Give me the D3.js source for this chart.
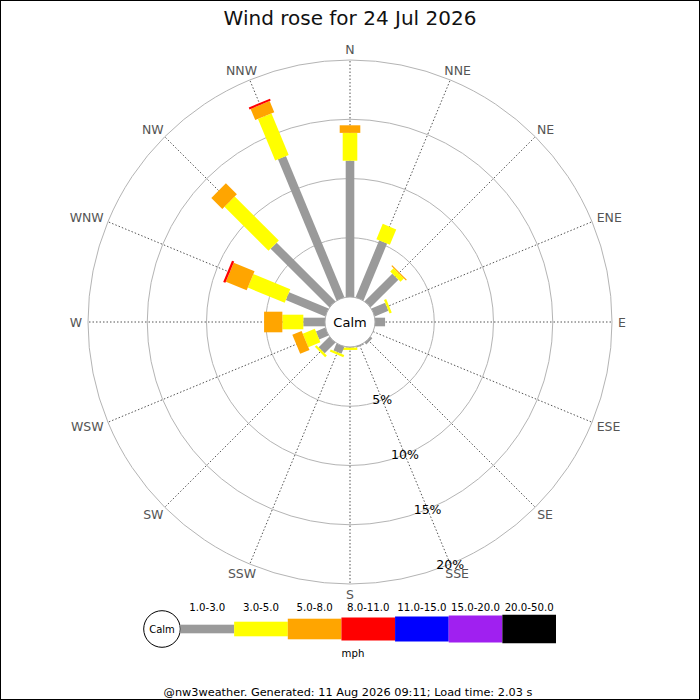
<!DOCTYPE html>
<html>
<head>
<meta charset="utf-8">
<script src="https://cdn.jsdelivr.net/npm/d3@7"></script>
<style>
  html, body { margin: 0; padding: 0; background: #fff; }
  svg { display: block; font-family: "DejaVu Sans", sans-serif; }
</style>
</head>
<body>
<svg id="chart" width="700" height="700"></svg>
<script>
// ---- data ----
const titleText = "Wind rose for 24 Jul 2026";
const footerText = "@nw3weather. Generated: 11 Aug 2026 09:11; Load time: 2.03 s";
const unitLabel = "mph";
const calmLabel = "Calm";
const directions = ["N","NNE","NE","ENE","E","ESE","SE","SSE","S","SSW","SW","WSW","W","WNW","NW","NNW"];
const speedBands = ["1.0-3.0","3.0-5.0","5.0-8.0","8.0-11.0","11.0-15.0","15.0-20.0","20.0-50.0"];
const bandColors = ["#9a9a9a","#ffff00","#ffa500","#ff0000","#0000ff","#a020f0","#000000"];
const ringTicks = [5, 10, 15, 20];
const ringTickLabels = ["5%","10%","15%","20%"];
// percentage of time per direction, per speed band
const pct_1_3   = [11.5, 5.2, 3.3, 1.25, 0.85, 0, 0.2, 0.1, 0.05, 0.65, 1.27, 0.85, 1.83, 3.6, 7.0, 12.9];
const pct_3_5   = [2.35, 1.4, 0.4, 0.2, 0, 0, 0, 0, 0.2, 0.2, 0.2, 1.1, 1.77, 3.37, 5.26, 3.79];
const pct_5_8   = [0.64, 0, 0.1, 0, 0, 0, 0, 0, 0, 0, 0, 0.85, 1.54, 1.9, 1.31, 1.02];
const pct_8_11  = [0, 0, 0, 0, 0, 0, 0, 0, 0, 0, 0, 0, 0, 0.2, 0, 0.17];
const pct_11_15 = [0, 0, 0, 0, 0, 0, 0, 0, 0, 0, 0, 0, 0, 0, 0, 0];
const pct_15_20 = [0, 0, 0, 0, 0, 0, 0, 0, 0, 0, 0, 0, 0, 0, 0, 0];
const pct_20_50 = [0, 0, 0, 0, 0, 0, 0, 0, 0, 0, 0, 0, 0, 0, 0, 0];
const bandSeries = [pct_1_3, pct_3_5, pct_5_8, pct_8_11, pct_11_15, pct_15_20, pct_20_50];

// ---- layout ----
const svg = d3.select("#chart");
const cx = 350, cy = 322;
const calmR = 25, outerR = 262;
const r = d3.scaleLinear().domain([0, 20]).range([calmR, outerR]);
const angle = d3.scalePoint().domain(directions).range([0, 337.5]);
const barWidth = d3.scaleOrdinal().domain(speedBands).range([8.6, 14.6, 20.6, 23, 25, 27, 28.5]);
const color = d3.scaleOrdinal().domain(speedBands).range(bandColors);
const rad = d => d * Math.PI / 180;

// border
svg.append("rect").attr("x", 0.5).attr("y", 0.5).attr("width", 699).attr("height", 699)
  .attr("fill", "none").attr("stroke", "#000").attr("stroke-width", 1);

// title
svg.append("text").attr("x", 350).attr("y", 24.5).attr("text-anchor", "middle")
  .attr("font-size", 20).attr("fill", "#111").text(titleText);

const plot = svg.append("g").attr("transform", `translate(${cx},${cy})`);

// rings
plot.selectAll("circle.ring").data(ringTicks).join("circle")
  .attr("class", "ring").attr("r", d => r(d))
  .attr("fill", "none").attr("stroke", "#b4b4b4").attr("stroke-width", 1);

// axes
plot.selectAll("line.axis").data(directions).join("line")
  .attr("class", "axis")
  .attr("x1", d => r(0) * Math.sin(rad(angle(d))))
  .attr("y1", d => -r(0) * Math.cos(rad(angle(d))))
  .attr("x2", d => r(20) * Math.sin(rad(angle(d))))
  .attr("y2", d => -r(20) * Math.cos(rad(angle(d))))
  .attr("stroke", "#555").attr("stroke-width", 1).attr("stroke-dasharray", "1.5,2");

// bars
const segs = [];
directions.forEach((dir, i) => {
  let cum = 0;
  speedBands.forEach((band, b) => {
    const v = bandSeries[b][i];
    if (v > 0) segs.push({dir, band, start: cum, end: cum + v});
    cum += v;
  });
});
plot.selectAll("rect.seg").data(segs).join("rect")
  .attr("class", "seg")
  .attr("transform", d => `rotate(${angle(d.dir)})`)
  .attr("x", d => -barWidth(d.band) / 2)
  .attr("width", d => barWidth(d.band))
  .attr("y", d => -r(d.end))
  .attr("height", d => r(d.end) - r(d.start))
  .attr("fill", d => color(d.band));

// calm circle
plot.append("circle").attr("r", calmR).attr("fill", "#fff").attr("stroke", "#aaa").attr("stroke-width", 1);
plot.append("text").attr("text-anchor", "middle").attr("dy", "0.36em")
  .attr("font-size", 13).attr("fill", "#000").text(calmLabel);

// compass labels
const lbl = plot.selectAll("text.dir").data(directions).join("text")
  .attr("class", "dir").attr("font-size", 12.5).attr("fill", "#555")
  .attr("text-anchor", "middle").attr("dy", "0.36em").text(d => d);
lbl.each(function(d) {
  const w = this.getComputedTextLength();
  const h = 9;
  const a = rad(angle(d));
  const s = Math.sin(a), c = Math.cos(a);
  const px = (outerR + 6) * s + s * w / 2;
  const py = -(outerR + 6) * c - c * h / 2;
  d3.select(this).attr("x", px).attr("y", py);
});

// ring labels along SSE axis
const labA = rad(angle("SSE"));
plot.selectAll("text.ringlab").data(ringTicks).join("text")
  .attr("class", "ringlab")
  .attr("x", d => r(d) * Math.sin(labA))
  .attr("y", d => -r(d) * Math.cos(labA))
  .attr("dy", "0.36em").attr("text-anchor", "middle")
  .attr("font-size", 12.5).attr("fill", "#000")
  .text((d, i) => ringTickLabels[i]);

// legend
const legY = 629;
const lx = d3.scaleBand().domain(speedBands).range([180.5, 556]).paddingInner(0).paddingOuter(0);
const leg = svg.append("g");
leg.append("circle").attr("cx", 162).attr("cy", legY).attr("r", 18.3)
  .attr("fill", "#fff").attr("stroke", "#000").attr("stroke-width", 1);
leg.append("text").attr("x", 162).attr("y", legY).attr("dy", "0.36em").attr("text-anchor", "middle")
  .attr("font-size", 10).attr("fill", "#000").text(calmLabel);
leg.selectAll("rect").data(speedBands).join("rect")
  .attr("x", d => lx(d)).attr("width", lx.bandwidth())
  .attr("y", d => legY - barWidth(d) / 2).attr("height", d => barWidth(d))
  .attr("fill", d => color(d));
leg.selectAll("text.band").data(speedBands).join("text")
  .attr("class", "band")
  .attr("x", d => lx(d) + lx.bandwidth() / 2).attr("y", 610.5)
  .attr("text-anchor", "middle").attr("font-size", 10.2).attr("fill", "#000").text(d => d);
leg.append("text").attr("x", 353).attr("y", 657).attr("text-anchor", "middle")
  .attr("font-size", 10.2).attr("fill", "#000").text(unitLabel);

// footer
svg.append("text").attr("x", 348).attr("y", 695.5).attr("text-anchor", "middle")
  .attr("font-size", 11.3).attr("fill", "#000").text(footerText);
</script>
</body>
</html>
